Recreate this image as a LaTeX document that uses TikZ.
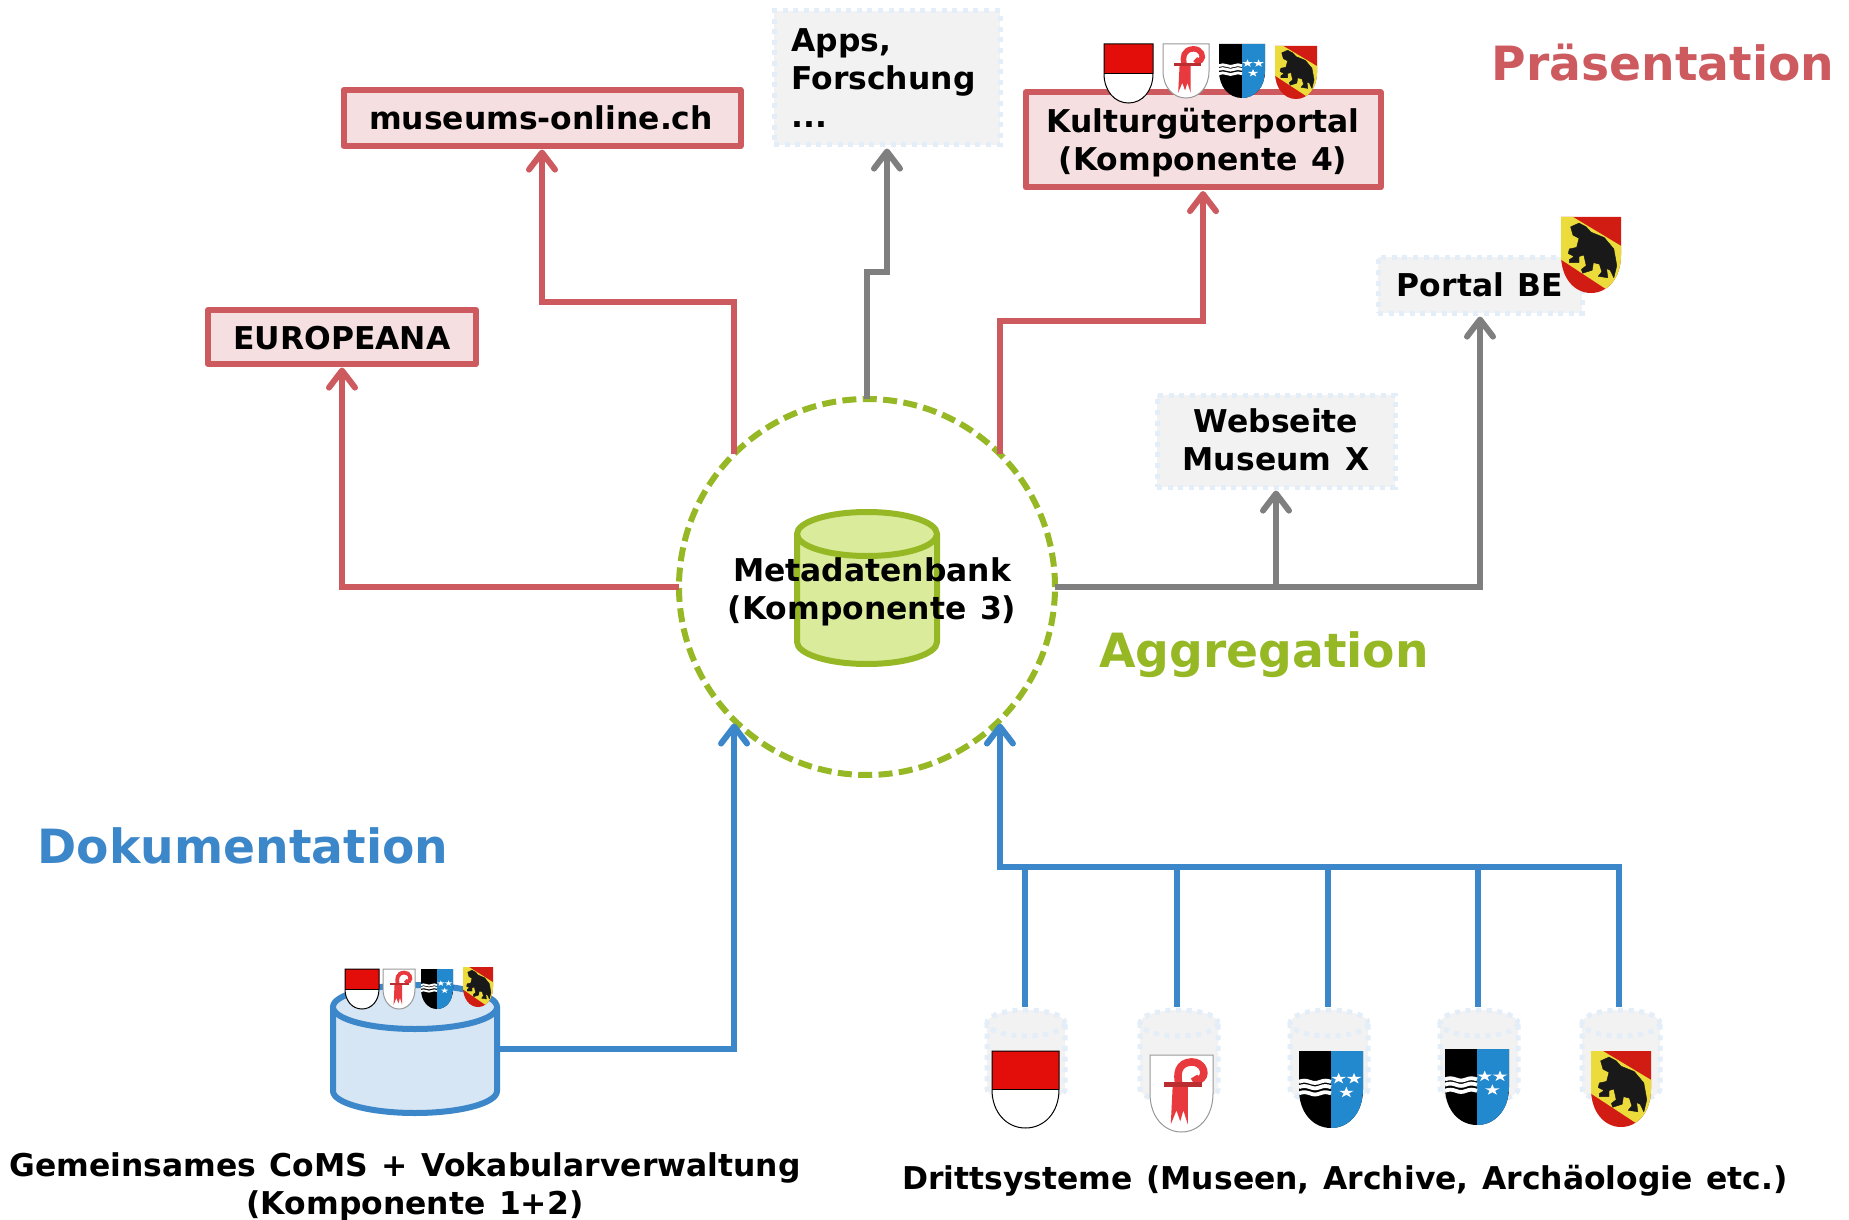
\documentclass[tikz,border=0pt]{standalone}
\usepackage{fontspec}
\setmainfont{DejaVu Sans}[WordSpace=1.25]
\usetikzlibrary{arrows.meta}
\definecolor{cred}{HTML}{CD5A5E}
\definecolor{credfill}{HTML}{F5DFE0}
\definecolor{cgray}{HTML}{7F7F7F}
\definecolor{cblue}{HTML}{3B87C9}
\definecolor{cbluefill}{HTML}{D7E6F4}
\definecolor{cgreen}{HTML}{97B825}
\definecolor{cgreenfill}{HTML}{DAEB9C}
\definecolor{gfill}{HTML}{F2F2F2}
\definecolor{gline}{HTML}{E4EEF8}
\definecolor{aablue}{HTML}{2289CF}
\definecolor{sored}{HTML}{E30E0A}
\definecolor{blred}{HTML}{E8393E}
\definecolor{beyel}{HTML}{EBDC3C}
\definecolor{bered}{HTML}{D01C12}
\tikzset{
  x=.5pt,y=-.5pt,
  lab/.style={font=\fontsize{15.7}{19}\selectfont\bfseries,align=center,text=black,inner sep=0pt},
  head/.style={font=\fontsize{23.6}{28}\selectfont\bfseries,inner sep=0pt},
  redbox/.style={draw=cred,fill=credfill,line width=3pt,outer sep=0pt,inner sep=0pt,line join=round},
  ghostbox/.style={draw=gline,fill=gfill,line width=2.5pt,dash pattern=on 2.5pt off 2.8pt,outer sep=0pt,inner sep=0pt},
  conn/.style={line width=3pt,line join=miter,shorten >=1.8pt,-{Straight Barb[length=8.5pt,width=13pt,round]}},
  plainconn/.style={line width=3pt},
  anchorbox/.style={inner sep=0pt,outer sep=0pt},
}
% #1 cx, #2 ytop, #3 ybottom, #4 rx, #5 ry, #6 style
\newcommand{\cyl}[6]{%
  \begin{scope}[shift={(#1,#2)}]
  \path[#6,draw=none] (-#4,#5) -- ({-#4},{#3-#2-#5}) .. controls ({-#4},{#3-#2-.45*#5}) and ({-.55*#4},{#3-#2}) .. (0,{#3-#2}) .. controls ({.55*#4},{#3-#2}) and (#4,{#3-#2-.45*#5}) .. (#4,{#3-#2-#5}) -- (#4,#5) -- cycle;
  \draw[#6,fill=none] (-#4,#5) -- ({-#4},{#3-#2-#5}) .. controls ({-#4},{#3-#2-.45*#5}) and ({-.55*#4},{#3-#2}) .. (0,{#3-#2}) .. controls ({.55*#4},{#3-#2}) and (#4,{#3-#2-.45*#5}) .. (#4,{#3-#2-#5}) -- (#4,#5);
  \draw[#6] (0,#5) ellipse [x radius=#4,y radius=#5];
  \end{scope}}
\newcommand{\shoutline}{(0,0) -- (1,0) -- (1,.5) .. controls (1,.8) and (.78,1) .. (.5,1) .. controls (.22,1) and (0,.8) .. (0,.5) -- cycle}
\newcommand{\shSO}[4]{\begin{scope}[shift={(#1,#2)},xscale=#3,yscale=#4]
  \fill[white] \shoutline;
  \fill[sored] (0,0) rectangle (1,.5);
  \draw[black,line width=.5pt] \shoutline;
  \draw[black,line width=.3pt] (0,.5) -- (1,.5);
  \end{scope}}
\newcommand{\shBL}[4]{\begin{scope}[shift={(#1,#2)},xscale=#3,yscale=#4]
  \fill[white] \shoutline;
  \draw[black!40,line width=.5pt] \shoutline;
  \fill[blred] (.36,.4) -- (.6,.4) -- (.6,.9) -- (.53,.72) -- (.48,.86) -- (.42,.72) -- (.33,.9) -- cycle;
  \draw[blred,line width={.06*#3 pt}] (.46,.38) .. controls (.42,.25) and (.44,.1) .. (.66,.09) .. controls (.84,.09) and (.9,.24) .. (.82,.3) .. controls (.78,.34) and (.72,.33) .. (.7,.28);
  \fill[blred!80!black] (.23,.35) rectangle (.82,.41);
  \end{scope}}
\newcommand{\shAG}[4]{\begin{scope}[shift={(#1,#2)},xscale=#3,yscale=#4]
  \fill[black] \shoutline;
  \begin{scope}\clip \shoutline;
  \fill[aablue] (.5,0) rectangle (1,1);
  \foreach \wy in {.40,.47,.55}{
    \draw[white,line width={.03*#3 pt}] (0,\wy) .. controls (.06,{\wy-.02}) and (.1,{\wy-.02}) .. (.17,\wy) .. controls (.23,{\wy+.02}) and (.27,{\wy+.02}) .. (.33,\wy) .. controls (.39,{\wy-.02}) and (.43,{\wy-.02}) .. (.5,\wy);}
  \foreach \sx/\sy in {.62/.36,.86/.36,.74/.54}{
    \fill[white,shift={(\sx,\sy)},xscale=.12,yscale=-.075] (0,1) -- (.22,.31) -- (.95,.31) -- (.36,-.12) -- (.59,-.81) -- (0,-.38) -- (-.59,-.81) -- (-.36,-.12) -- (-.95,.31) -- (-.22,.31) -- cycle;}
  \end{scope}
  \end{scope}}
\newcommand{\shBE}[4]{\begin{scope}[shift={(#1,#2)},xscale=#3,yscale=#4]
  \fill[bered] \shoutline;
  \begin{scope}\clip \shoutline;
  \fill[beyel] (0,0) -- (.2,0) -- (1,.38) -- (1,.9) -- (.85,1) -- (0,.56) -- cycle;
  \filldraw[black!90,line width=.2pt,line join=round] (.16,.13) -- (.3,.08) -- (.42,.13) -- (.5,.2) -- (.72,.27) -- (.88,.42) -- (.93,.64) -- (.88,.8) -- (.82,.7) -- (.76,.68) -- (.78,.8) -- (.62,.78) -- (.68,.72) -- (.64,.62) -- (.54,.6) -- (.52,.7) -- (.36,.74) -- (.34,.69) -- (.42,.64) -- (.38,.5) -- (.3,.52) -- (.3,.6) -- (.14,.6) -- (.14,.56) -- (.22,.52) -- (.12,.48) -- (.14,.42) -- (.26,.4) -- (.3,.28) -- (.2,.24) -- cycle;
  \end{scope}
  \end{scope}}
\begin{document}
\begin{tikzpicture}
\useasboundingbox (0,0) rectangle (1849,1220);
\fill[white] (0,0) rectangle (1849,1220);
% boxes
\node[redbox,minimum width=134pt,minimum height=27pt] (europeana) at (342,337) {};
\node[redbox,minimum width=198.5pt,minimum height=28pt] (museums) at (542,118) {};
\node[ghostbox,minimum width=113pt,minimum height=67pt] (apps) at (887,78) {};
\node[redbox,minimum width=177.5pt,minimum height=47.5pt] (kultur) at (1203,140) {};
\node[ghostbox,minimum width=102pt,minimum height=28pt] (portal) at (1480,285) {};
\node[ghostbox,minimum width=119pt,minimum height=46pt] (web) at (1276,441) {};
\node[draw=cgreen,line width=3pt,dash pattern=on 7pt off 3.2pt,circle,minimum size=188pt,outer sep=0pt,inner sep=0pt] (circ) at (867,587) {};
% invisible anchors of the cylinders
\node[anchorbox,minimum width=82pt,minimum height=65pt] (cylblue) at (415,1049) {};
\node[anchorbox,minimum width=41pt,minimum height=47pt] (g1) at (1025,1054) {};
\node[anchorbox,minimum width=41pt,minimum height=47pt] (g2) at (1177,1054) {};
\node[anchorbox,minimum width=41pt,minimum height=47pt] (g3) at (1328,1054) {};
\node[anchorbox,minimum width=41pt,minimum height=47pt] (g4) at (1478,1054) {};
\node[anchorbox,minimum width=41pt,minimum height=47pt] (g5) at (1619,1054) {};
\coordinate (mb) at (542,302);
\coordinate (ab) at (887,272);
\coordinate (kb) at (1203,321);
\coordinate (trk) at (0,867);
\coordinate (tr) at (circ.315 |- trk);
% connectors
\draw[conn,cred] (circ.west) -| (europeana.south);
\draw[conn,cred] (circ.135) |- (mb) -- (museums.south);
\draw[conn,cgray] (circ.north) |- (ab) -- (apps.south);
\draw[conn,cred] (circ.45) |- (kb) -- (kultur.south);
\draw[conn,cgray] (circ.east) -| (portal.south);
\draw[conn,cgray] (circ.east -| web.south) -- (web.south);
\draw[conn,cblue] (cylblue.east) -| (circ.225);
\draw[conn,cblue] (g5.north) |- (tr) -- (circ.315);
\foreach \g in {g1,g2,g3,g4}{\draw[plainconn,cblue] (\g.north) -- (\g.north |- tr);}
% cylinders
\cyl{867}{512}{664}{70}{22}{draw=cgreen,fill=cgreenfill,line width=3pt}
\cyl{415}{985}{1113}{82}{22}{draw=cblue,fill=cbluefill,line width=3pt}
\foreach \gx in {1026,1179,1329,1479,1621}{
  \cyl{\gx}{1010}{1102}{39}{13}{draw=gline,fill=gfill,line width=2.5pt,dash pattern=on 2.5pt off 2.8pt}}
% texts
\node[lab] (t1) at (342,338) {EUROPEANA};
\node[lab] (t2) at (541,118) {museums-online.ch};
\node[lab,align=left,anchor=north west] (t3) at (791,28) {Apps,\\Forschung\\...};
\node[lab] (t4) at (1203,143) {Kulturgüterportal\\(Komponente 4)};
\node[lab] (t5) at (1480,285) {Portal BE};
\node[lab] (t6) at (1276,440) {Webseite\\Museum X};
\node[lab] (t7) at (872,592) {Metadatenbank\\(Komponente 3)};
\node[lab] (t8) at (405,1187) {Gemeinsames CoMS + Vokabularverwaltung\\\hspace*{10pt}(Komponente 1+2)};
\node[lab] (t9) at (1345,1181) {Drittsysteme (Museen, Archive, Archäologie etc.)};
\node[head,text=cred] (h1) at (1663,63) {Präsentation};
\node[head,text=cgreen] (h2) at (1264,655) {Aggregation};
\node[head,text=cblue] (h3) at (243,846) {Dokumentation};
% shields top
\shSO{1104}{44}{49}{59}
\shBL{1163}{44}{46}{54}
\shAG{1219}{44}{46}{54}
\shBE{1275}{46}{42}{53}
\shBE{1561}{217}{60}{76}
% shields small
\shSO{345}{969}{34}{40}
\shBL{383}{969}{32}{40}
\shAG{421}{969}{32}{40}
\shBE{463}{967}{30}{40}
% shields large
\shSO{992}{1051}{67}{77}
\shBL{1150}{1055}{63}{77}
\shAG{1299}{1051}{64}{77}
\shAG{1445}{1049}{64}{76}
\shBE{1591}{1051}{60}{76}
\end{tikzpicture}
\end{document}
